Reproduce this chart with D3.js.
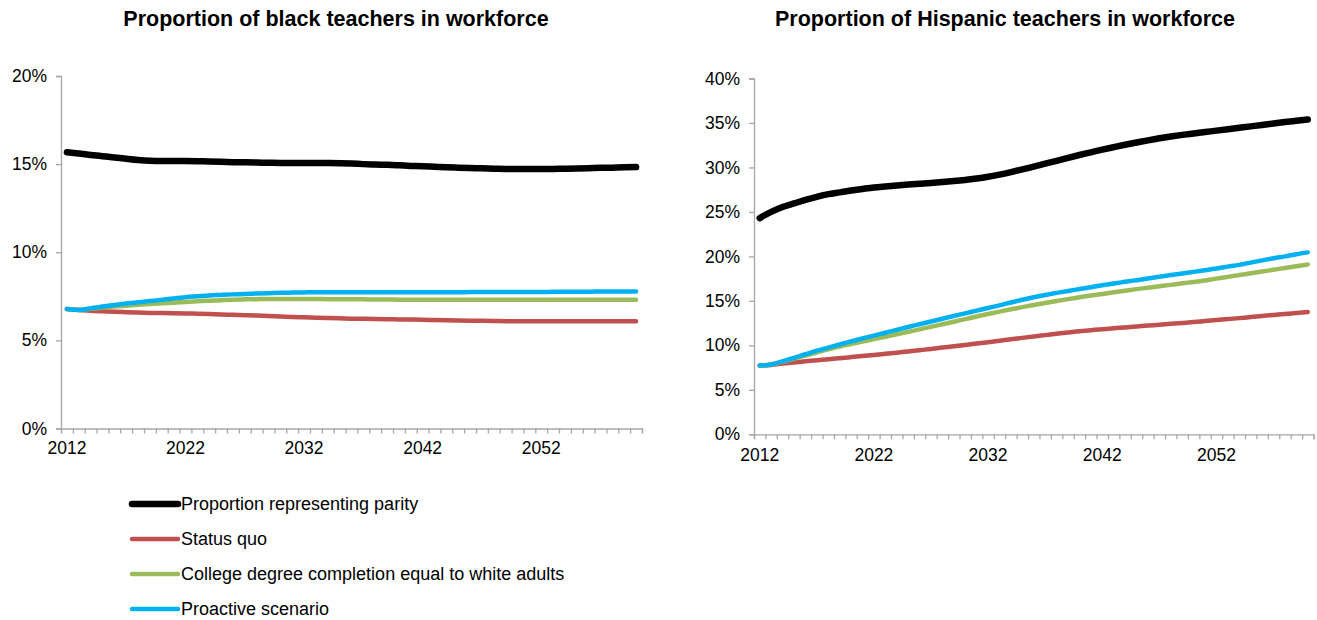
<!DOCTYPE html>
<html>
<head>
<meta charset="utf-8">
<script src="https://cdn.jsdelivr.net/npm/d3@7"></script>
<style>
  html, body { margin: 0; padding: 0; background: #fff; }
  svg { display: block; font-family: "Liberation Sans", Arial, sans-serif; }
</style>
</head>
<body>
<svg id="chart" width="1317" height="620"></svg>
<script>
const years = d3.range(2012, 2061);
const xTickLabels = [2012, 2022, 2032, 2042, 2052];
const seriesNames = ["Proportion representing parity", "Status quo", "College degree completion equal to white adults", "Proactive scenario"];
const seriesColors = ["#000000", "#c0504d", "#9bbb59", "#00b0f0"];

const blackTitle = "Proportion of black teachers in workforce";
const blackYTicks = [0, 5, 10, 15, 20];
const blackParity = [15.67,15.6,15.52,15.45,15.38,15.3,15.23,15.19,15.18,15.18,15.18,15.17,15.15,15.13,15.11,15.1,15.09,15.08,15.07,15.07,15.07,15.07,15.06,15.05,15.03,15.0,14.98,14.96,14.93,14.9,14.88,14.85,14.82,14.8,14.78,14.76,14.74,14.73,14.72,14.72,14.72,14.73,14.74,14.75,14.77,14.79,14.8,14.82,14.83];
const blackStatusQuo = [6.78,6.73,6.68,6.65,6.62,6.6,6.58,6.56,6.55,6.54,6.53,6.51,6.49,6.47,6.45,6.43,6.41,6.38,6.36,6.33,6.31,6.29,6.27,6.25,6.23,6.22,6.21,6.2,6.19,6.18,6.17,6.15,6.14,6.13,6.12,6.11,6.1,6.09,6.09,6.08,6.08,6.08,6.08,6.08,6.08,6.08,6.08,6.08,6.08];
const blackCollege = [6.78,6.74,6.8,6.86,6.92,6.97,7.02,7.06,7.1,7.14,7.18,7.22,7.25,7.28,7.31,7.33,7.34,7.35,7.35,7.35,7.35,7.35,7.34,7.34,7.33,7.33,7.32,7.32,7.31,7.31,7.31,7.3,7.3,7.3,7.3,7.3,7.3,7.3,7.3,7.3,7.3,7.31,7.31,7.31,7.31,7.31,7.31,7.31,7.31];
const blackProactive = [6.78,6.73,6.82,6.92,7.01,7.09,7.16,7.23,7.3,7.38,7.45,7.5,7.55,7.58,7.61,7.63,7.66,7.68,7.7,7.71,7.72,7.73,7.73,7.73,7.73,7.73,7.73,7.73,7.73,7.73,7.73,7.73,7.73,7.73,7.74,7.74,7.74,7.74,7.74,7.74,7.74,7.76,7.76,7.76,7.76,7.78,7.78,7.78,7.78];

const hispTitle = "Proportion of Hispanic teachers in workforce";
const hispYTicks = [0, 5, 10, 15, 20, 25, 30, 35, 40];
const hispParity = [24.3,25.0,25.55,25.95,26.35,26.7,27.0,27.2,27.4,27.58,27.75,27.87,27.98,28.08,28.17,28.26,28.36,28.47,28.6,28.75,28.95,29.2,29.48,29.78,30.1,30.42,30.75,31.08,31.4,31.7,32.0,32.28,32.55,32.8,33.05,33.28,33.48,33.66,33.82,33.98,34.14,34.3,34.46,34.62,34.78,34.94,35.1,35.25,35.4];
const hispStatusQuo = [7.73,7.8,7.95,8.08,8.2,8.32,8.44,8.56,8.68,8.8,8.92,9.05,9.18,9.32,9.46,9.6,9.75,9.9,10.05,10.2,10.36,10.52,10.68,10.84,11.0,11.15,11.3,11.45,11.58,11.7,11.82,11.92,12.02,12.12,12.22,12.32,12.42,12.52,12.62,12.73,12.84,12.95,13.06,13.18,13.3,13.42,13.53,13.64,13.75];
const hispCollege = [7.73,7.85,8.15,8.5,8.85,9.2,9.55,9.87,10.15,10.42,10.7,10.97,11.24,11.52,11.8,12.08,12.37,12.66,12.95,13.24,13.52,13.79,14.05,14.3,14.54,14.77,14.99,15.2,15.4,15.6,15.78,15.96,16.14,16.32,16.48,16.64,16.8,16.97,17.13,17.3,17.5,17.7,17.9,18.1,18.3,18.5,18.7,18.9,19.1];
const hispProactive = [7.73,7.85,8.2,8.6,9.0,9.4,9.75,10.1,10.45,10.78,11.1,11.42,11.74,12.06,12.37,12.68,12.99,13.3,13.6,13.9,14.2,14.5,14.82,15.12,15.4,15.66,15.9,16.12,16.33,16.54,16.75,16.95,17.14,17.33,17.52,17.71,17.9,18.08,18.26,18.45,18.65,18.85,19.05,19.3,19.55,19.8,20.0,20.25,20.45];

const svg = d3.select("#chart");
const axisColor = "#a6a6a6";
const fontSize = 17.5;

function drawPanel(cfg) {
  const g = svg.append("g");
  const x = d3.scaleBand().domain(years).range([cfg.x0, cfg.x1]).padding(0);
  const xEdge = d3.scaleLinear().domain([0, years.length]).range([cfg.x0, cfg.x1]);
  const y = d3.scaleLinear().domain([0, cfg.yMax]).range([cfg.y0, cfg.y1]);

  // title
  g.append("text").attr("x", cfg.titleX).attr("y", 26)
    .attr("text-anchor", "middle").attr("font-weight", "bold")
    .attr("font-size", 21.5).attr("fill", "#000").text(cfg.title);

  // y axis
  const yAxis = g.append("g").attr("transform", `translate(${cfg.x0},0)`)
    .call(d3.axisLeft(y).tickValues(cfg.yTicks).tickSize(5).tickPadding(9)
      .tickFormat(d => d + "%"));
  yAxis.select(".domain").attr("stroke", axisColor).attr("stroke-width", 1.3);
  yAxis.selectAll(".tick line").attr("stroke", axisColor).attr("stroke-width", 1.3);
  yAxis.selectAll("text").attr("font-size", fontSize).attr("fill", "#000")
    .attr("font-family", "Liberation Sans, Arial, sans-serif");

  // x axis ticks (between categories)
  const xTicksG = g.append("g").attr("transform", `translate(0,${cfg.y0})`)
    .call(d3.axisBottom(xEdge).tickValues(d3.range(0, years.length + 1)).tickSize(5).tickFormat(""));
  xTicksG.select(".domain").attr("stroke", axisColor).attr("stroke-width", 1.3);
  xTicksG.selectAll(".tick line").attr("stroke", axisColor).attr("stroke-width", 1.3);

  // x labels
  const xLab = g.append("g").attr("transform", `translate(0,${cfg.y0})`)
    .call(d3.axisBottom(x).tickValues(xTickLabels).tickSize(0).tickPadding(cfg.labelPad));
  xLab.select(".domain").remove();
  xLab.selectAll("text").attr("font-size", fontSize).attr("fill", "#000")
    .attr("font-family", "Liberation Sans, Arial, sans-serif");

  const line = d3.line()
    .x((d, i) => x(years[i]) + x.bandwidth() / 2)
    .y(d => y(d))
    .curve(d3.curveMonotoneX);

  cfg.series.forEach((s, k) => {
    g.append("path").datum(s)
      .attr("fill", "none")
      .attr("stroke", seriesColors[k])
      .attr("stroke-width", k === 0 ? 6.5 : 4.5)
      .attr("stroke-linecap", "round")
      .attr("stroke-linejoin", "round")
      .attr("d", line);
  });
}

drawPanel({
  title: blackTitle, titleX: 336, x0: 61, x1: 642, y0: 428.5, y1: 76, yMax: 20,
  yTicks: blackYTicks, labelPad: 13,
  series: [blackParity, blackStatusQuo, blackCollege, blackProactive]
});
drawPanel({
  title: hispTitle, titleX: 1005, x0: 754, x1: 1313.5, y0: 434.3, y1: 78.5, yMax: 40,
  yTicks: hispYTicks, labelPad: 14,
  series: [hispParity, hispStatusQuo, hispCollege, hispProactive]
});

// legend
const legend = svg.append("g");
const legendY = d3.scalePoint().domain(seriesNames).range([504, 609]);
seriesNames.forEach((name, k) => {
  const yy = legendY(name);
  legend.append("line").attr("x1", 132).attr("x2", 178).attr("y1", yy).attr("y2", yy)
    .attr("stroke", seriesColors[k]).attr("stroke-width", k === 0 ? 6.5 : 4.5)
    .attr("stroke-linecap", "round");
  legend.append("text").attr("x", 181).attr("y", yy).attr("dy", "0.35em")
    .attr("font-size", 18).attr("fill", "#000").text(name);
});
</script>
</body>
</html>
